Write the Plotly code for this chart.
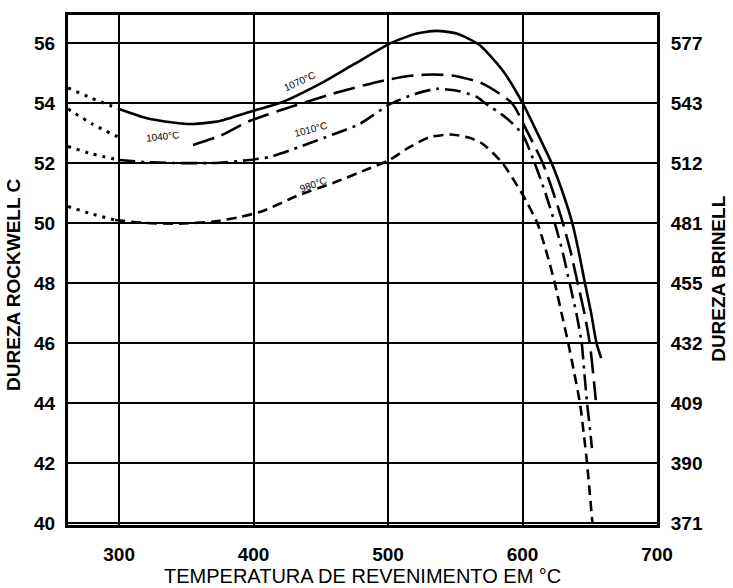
import plotly.graph_objects as go

# ---------------- data ----------------
temp_1070 = [262, 280, 300, 320, 340, 355, 375, 397, 422, 450, 475, 501, 520, 536, 552, 568, 585,
             600, 611, 621.6, 630, 637, 642, 646.4, 651, 655, 658.5]
rc_1070 = [54.5, 54.15, 53.8, 53.5, 53.35, 53.3, 53.4, 53.7, 54.04, 54.65, 55.3, 55.97, 56.3, 56.4, 56.3, 55.93, 55.1,
           54.0, 53.0, 52.0, 51.0, 50.0, 49.0, 48.0, 47.0, 46.0, 45.5]

temp_1040 = [262, 280, 300, 320, 340, 355, 375, 397, 432, 462, 492, 515, 533, 550, 570, 592,
             604, 615, 623, 630, 636, 641, 646, 650, 652.5, 654.5]
rc_1040 = [53.8, 53.3, 52.85, 52.65, 52.55, 52.6, 52.9, 53.4, 53.93, 54.35, 54.7, 54.9, 54.95, 54.9, 54.65, 54.0,
           53.0, 52.0, 51.0, 50.0, 49.0, 48.0, 47.0, 46.0, 45.0, 44.1]

temp_1010 = [262, 280, 300, 320, 340, 370, 397, 412, 435, 459, 479, 501, 520, 536, 552, 566, 572, 588,
             600, 609, 617, 624, 630, 635, 640, 644, 646, 648, 650, 651.6]
rc_1010 = [52.55, 52.3, 52.1, 52.03, 52.0, 52.0, 52.1, 52.2, 52.55, 52.95, 53.3, 53.95, 54.3, 54.47, 54.4, 54.2, 54.0, 53.5,
           52.95, 52.0, 51.0, 50.0, 49.0, 48.0, 47.0, 46.0, 45.0, 44.0, 43.2, 42.5]

temp_980 = [262, 280, 297, 320, 345, 370, 390, 407, 432, 460, 485, 501, 515, 530, 546, 560, 570, 585,
            600, 611, 618, 624, 629, 634, 638.5, 642.7, 645.5, 648, 650, 652]
rc_980 = [50.55, 50.3, 50.1, 50.0, 49.98, 50.05, 50.2, 50.4, 50.9, 51.35, 51.8, 52.1, 52.5, 52.85, 52.95, 52.85, 52.65, 52.0,
          50.95, 50.0, 49.0, 48.0, 47.0, 46.0, 45.0, 44.0, 43.0, 42.0, 41.0, 40.0]

curve_labels = ["1070°C", "1040°C", "1010°C", "980°C"]
label_x = [434, 332, 442, 444]
label_y = [54.72, 52.88, 53.13, 51.3]
label_angle = [-25, -6, -15, -20]

rockwell_ticks = [40, 42, 44, 46, 48, 50, 52, 54, 56]
brinell_ticks = ["371", "390", "409", "432", "455", "481", "512", "543", "577"]
temp_ticks = [300, 400, 500, 600, 700]

x_title = "TEMPERATURA DE REVENIMENTO EM °C"
y_title = "DUREZA ROCKWELL C"
y2_title = "DUREZA BRINELL"

# ---------------- styles ----------------
dotted_end = [300, 300, 300, 297]
main_start = [300, 355, 300, 297]
main_dash = ["solid", "22px,8px", "16px,6px,3px,6px", "10px,6px"]
series = [(temp_1070, rc_1070), (temp_1040, rc_1040), (temp_1010, rc_1010), (temp_980, rc_980)]

FONT = "Liberation Sans, Arial, sans-serif"

fig = go.Figure()
for (xs, ys), dend, mstart, dash in zip(series, dotted_end, main_start, main_dash):
    dx = [x for x in xs if x <= dend]
    dy = [y for x, y in zip(xs, ys) if x <= dend]
    mx = [x for x in xs if x >= mstart]
    my = [y for x, y in zip(xs, ys) if x >= mstart]
    fig.add_trace(go.Scatter(x=dx, y=dy, mode="lines", showlegend=False, hoverinfo="skip",
                             line=dict(color="black", width=3, dash="3px,6px", shape="spline", smoothing=0.6)))
    fig.add_trace(go.Scatter(x=mx, y=my, mode="lines", showlegend=False, hoverinfo="skip",
                             line=dict(color="black", width=2.6, dash=dash, shape="spline", smoothing=0.6)))

# invisible trace so the right axis is drawn
fig.add_trace(go.Scatter(x=[None], y=[None], yaxis="y2", showlegend=False, hoverinfo="skip"))

for t, lx, ly, ang in zip(curve_labels, label_x, label_y, label_angle):
    fig.add_annotation(x=lx, y=ly, xref="x", yref="y", text=t, showarrow=False, textangle=ang,
                       font=dict(family=FONT, size=10, color="black"))

yr = [39.94, 56.93]
tickfont = dict(family=FONT, size=19, color="black", weight="bold")

fig.update_layout(
    width=733, height=588,
    margin=dict(l=68, r=76, t=13, b=63),
    paper_bgcolor="white", plot_bgcolor="white",
    xaxis=dict(range=[262, 700], tickvals=temp_ticks, showgrid=True, gridcolor="black", gridwidth=2,
               showline=True, linecolor="black", linewidth=3, mirror=True, zeroline=False,
               ticks="outside", ticklen=10, tickcolor="rgba(0,0,0,0)", tickfont=tickfont),
    yaxis=dict(range=yr, tickvals=rockwell_ticks, showgrid=True, gridcolor="black", gridwidth=2,
               showline=True, linecolor="black", linewidth=3, mirror=True, zeroline=False,
               ticks="outside", ticklen=6, tickcolor="rgba(0,0,0,0)", tickfont=tickfont),
    yaxis2=dict(range=yr, overlaying="y", side="right", tickvals=rockwell_ticks, ticktext=brinell_ticks,
                showgrid=False, zeroline=False, showline=False,
                ticks="outside", ticklen=9, tickcolor="rgba(0,0,0,0)", tickfont=tickfont),
)

fig.add_annotation(x=0.5, y=-0.0996, xref="paper", yref="paper", text=x_title, showarrow=False,
                   xanchor="center", yanchor="middle", font=dict(family=FONT, size=20, color="black"))
fig.add_annotation(x=-0.0917, y=0.4707, xref="paper", yref="paper", text=y_title, showarrow=False,
                   textangle=-90, xanchor="center", yanchor="middle",
                   font=dict(family=FONT, size=19, color="black", weight="bold"))
fig.add_annotation(x=1.105, y=0.4824, xref="paper", yref="paper", text=y2_title, showarrow=False,
                   textangle=-90, xanchor="center", yanchor="middle",
                   font=dict(family=FONT, size=19, color="black", weight="bold"))

fig.write_html("out.html", config={"displayModeBar": False, "staticPlot": True},
               post_script="document.body.style.margin='0';document.body.style.overflow='hidden';")
